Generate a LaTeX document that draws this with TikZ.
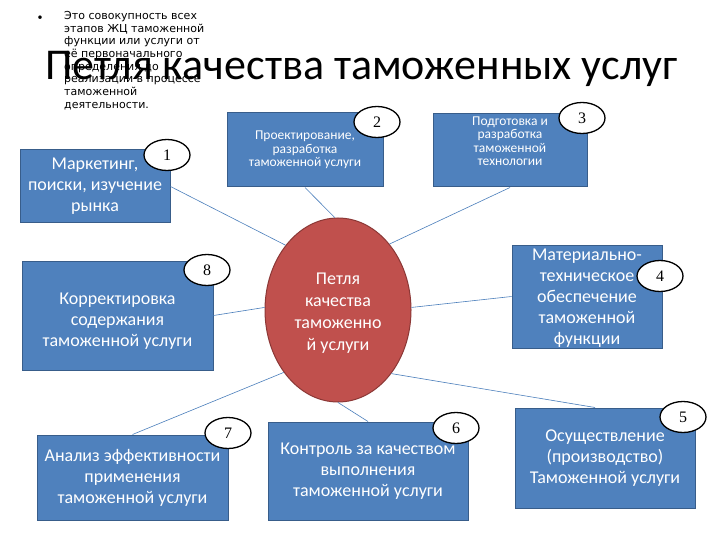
\documentclass[tikz,border=0pt]{standalone}
\usepackage{fontspec}
\setmainfont{Carlito}
\newfontfamily\numfont{Liberation Serif}
\newfontfamily\introfont{DejaVu Sans}
\usetikzlibrary{shapes.geometric,calc}
\definecolor{boxblue}{HTML}{4F81BD}
\definecolor{boxborder}{HTML}{385D8A}
\definecolor{ellred}{HTML}{C0504D}
\definecolor{ellborder}{HTML}{8C3836}
\definecolor{linkblue}{HTML}{4A7EBB}
\begin{document}
\begin{tikzpicture}[x=1pt,y=-1pt,
  box/.style={draw=boxborder, line width=1pt, fill=boxblue, text=white, align=center, inner sep=0pt},
  bigtxt/.style={font=\fontsize{18}{21}\selectfont},
  smalltxt/.style={font=\fontsize{13.5}{13.5}\selectfont},
  boxtext/.style={text=white, align=center, inner sep=0pt},
  num/.style={ellipse, draw=black, line width=1.3pt, fill=white, minimum width=46pt, minimum height=31pt, inner sep=0pt, font=\numfont\fontsize{16}{16}\selectfont},
  link/.style={draw=linkblue, line width=0.6pt}]
\useasboundingbox (0,0) rectangle (720,540);
\fill[white] (0,0) rectangle (720,540);

% intro text
\node[font=\fontsize{10}{10}\selectfont] (bul) at (40,18) {•};
\node[anchor=north west, align=left, inner sep=0pt, font=\introfont\fontsize{11}{12.7}\selectfont] (intro) at (64,11)
 {Это совокупность всех\\этапов ЖЦ таможенной\\функции или услуги от\\её первоначального\\определения до\\реализации в процессе\\таможенной\\деятельности.};

% title
\node[anchor=base west, inner sep=0pt, font=\fontsize{44}{44}\selectfont] (title) at (45,80) {Петля качества таможенных услуг};

% boxes
\node[box, bigtxt, minimum width=150pt, minimum height=73pt] (b1) at (95,186.5) {Маркетинг,\\поиски, изучение\\рынка};
\node[box, smalltxt, minimum width=156pt, minimum height=74pt] (b2) at (305,150) {Проектирование,\\разработка\\таможенной услуги};
\node[box, minimum width=154pt, minimum height=73pt] (b3) at (510,150.5) {};
\node[boxtext, smalltxt] (b3t) at (510,141) {Подготовка и\\разработка\\таможенной\\технологии};
\node[box, bigtxt, minimum width=150pt, minimum height=103pt] (b4) at (587,296.5) {};
\node[boxtext, bigtxt] (b4t) at (587,298) {Материально-\\техническое\\обеспечение\\таможенной\\функции};
\node[box, bigtxt, minimum width=180pt, minimum height=100pt] (b5) at (605,458) {Осуществление\\(производство)\\Таможенной услуги};
\node[box, bigtxt, minimum width=200pt, minimum height=98pt] (b6) at (368,471) {Контроль за качеством\\выполнения\\таможенной услуги};
\node[box, bigtxt, minimum width=191pt, minimum height=85pt] (b7) at (132.5,477.5) {Анализ эффективности\\применения\\таможенной услуги};
\node[box, minimum width=191pt, minimum height=109pt] (b8) at (117.5,315.5) {};
\node[boxtext, bigtxt] (b8t) at (117.5,321) {Корректировка\\содержания\\таможенной услуги};

% central ellipse
\node[ellipse, draw=ellborder, line width=1pt, fill=ellred, inner sep=0pt,
  minimum width=146pt, minimum height=184pt] (loop) at (338,310) {};
\node[boxtext, font=\fontsize{18}{22}\selectfont] (loopt) at (338,313) {Петля\\качества\\таможенно\\й услуги};

% connectors
\draw[link] (b1.east) -- (loop.129);
\draw[link] (b2.south) -- (loop.92);
\draw[link] (b3.south) -- (loop.52);
\draw[link] (b4.west) -- (loop.2);
\draw[link] (loop.-50) -- ($(b5.north)+(-10,0)$);
\draw[link] (loop.-90) -- (b6.north);
\draw[link] (loop.-131) -- (b7.north);
\draw[link] (loop.178) -- (b8.east);

% numbers
\node[num] (n1) at (167,155) {1};
\node[num] (n2) at (377,122) {2};
\node[num] (n3) at (582,118) {3};
\node[num] (n4) at (660,276) {4};
\node[num] (n5) at (683,417) {5};
\node[num] (n6) at (456,428) {6};
\node[num] (n7) at (228,433) {7};
\node[num] (n8) at (207,270) {8};
\end{tikzpicture}
\end{document}
